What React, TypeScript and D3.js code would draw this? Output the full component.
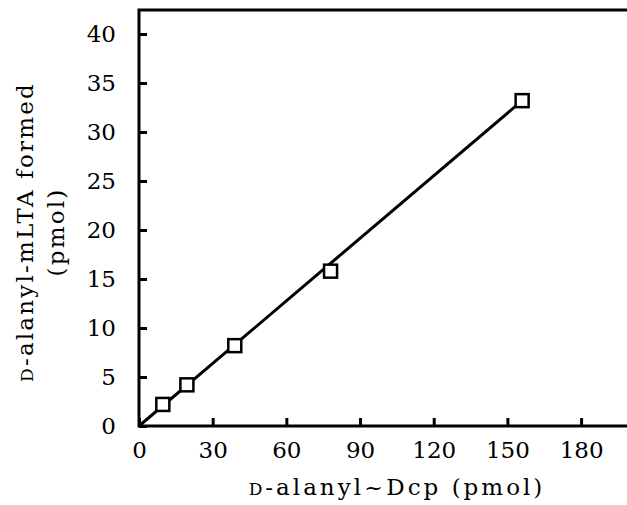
import React, { useRef, useEffect } from 'react';
import * as d3 from 'd3';

// substrate added (pmol) vs product formed (pmol)
const dcpAdded = [9.7, 19.5, 39, 78, 156];
const ltaFormed = [2.2, 4.2, 8.2, 15.8, 33.2];
const xTicks = [0, 30, 60, 90, 120, 150, 180];
const yTicks = [0, 5, 10, 15, 20, 25, 30, 35, 40];
const fitLine = [[0, 0], [156, 33.2]];

const App = () => {
  const svgRef = useRef(null);

  useEffect(() => {
    const width = 627;
    const height = 505;
    const margin = { top: 10, right: 0, bottom: 79, left: 139 };
    const labelFont = '"DejaVu Serif", serif';
    const tickFont = '"DejaVu Serif", serif';

    const svg = d3.select(svgRef.current)
      .attr('width', width)
      .attr('height', height);

    svg.selectAll('*').remove();

    const x = d3.scaleLinear()
      .domain([0, 200])
      .range([margin.left, margin.left + 200 * 2.456]);

    const y = d3.scaleLinear()
      .domain([0, 42.45])
      .range([height - margin.bottom, margin.top]);

    // frame
    svg.append('path')
      .attr('d', `M${x(200)},${y(0)}H${x(0)}V${y(42.45)}H${x(200)}`)
      .attr('fill', 'none')
      .attr('stroke', '#000')
      .attr('stroke-width', 3);

    // inward ticks
    const xAxis = svg.append('g')
      .attr('transform', `translate(0,${y(0)})`)
      .call(d3.axisBottom(x).tickValues(xTicks).tickSize(-8).tickPadding(16).tickFormat(d3.format('d')));
    xAxis.select('.domain').remove();
    xAxis.selectAll('line').attr('stroke-width', 3);
    xAxis.selectAll('text')
      .attr('font-family', tickFont)
      .attr('font-size', 23);

    const yAxis = svg.append('g')
      .attr('transform', `translate(${x(0)},0)`)
      .call(d3.axisLeft(y).tickValues(yTicks).tickSize(-8).tickPadding(23).tickFormat(d3.format('d')));
    yAxis.select('.domain').remove();
    yAxis.selectAll('line').attr('stroke-width', 3);
    yAxis.selectAll('text')
      .attr('font-family', tickFont)
      .attr('font-size', 23);

    // fitted line
    const line = d3.line()
      .x(d => x(d[0]))
      .y(d => y(d[1]));

    svg.append('path')
      .datum(fitLine)
      .attr('fill', 'none')
      .attr('stroke', '#000')
      .attr('stroke-width', 3)
      .attr('d', line);

    // data points
    const s = 13;
    svg.selectAll('rect.pt')
      .data(dcpAdded)
      .enter()
      .append('rect')
      .attr('class', 'pt')
      .attr('x', d => x(d) - s / 2)
      .attr('y', (d, i) => y(ltaFormed[i]) - s / 2)
      .attr('width', s)
      .attr('height', s)
      .attr('fill', '#fff')
      .attr('stroke', '#000')
      .attr('stroke-width', 2.5);

    // axis labels
    const xl = svg.append('text')
      .attr('x', 397)
      .attr('y', 495)
      .attr('text-anchor', 'middle')
      .attr('font-family', labelFont)
      .attr('font-size', 23)
      .attr('letter-spacing', 3);
    xl.append('tspan').attr('font-size', 17).text('D');
    xl.append('tspan').text('-alanyl~Dcp (pmol)');

    const yl = svg.append('text')
      .attr('transform', `translate(33,232) rotate(-90)`)
      .attr('text-anchor', 'middle')
      .attr('font-family', labelFont)
      .attr('font-size', 23)
      .attr('letter-spacing', 2.2);
    yl.append('tspan').attr('font-size', 17).text('D');
    yl.append('tspan').text('-alanyl-mLTA formed');

    svg.append('text')
      .attr('transform', `translate(64,232) rotate(-90)`)
      .attr('text-anchor', 'middle')
      .attr('font-family', labelFont)
      .attr('font-size', 23)
      .attr('letter-spacing', 2.2)
      .text('(pmol)');
  }, []);

  return (
    <svg ref={svgRef} style={{ position: 'absolute', left: 0, top: 0, background: '#fff' }}></svg>
  );
};

export default App;
